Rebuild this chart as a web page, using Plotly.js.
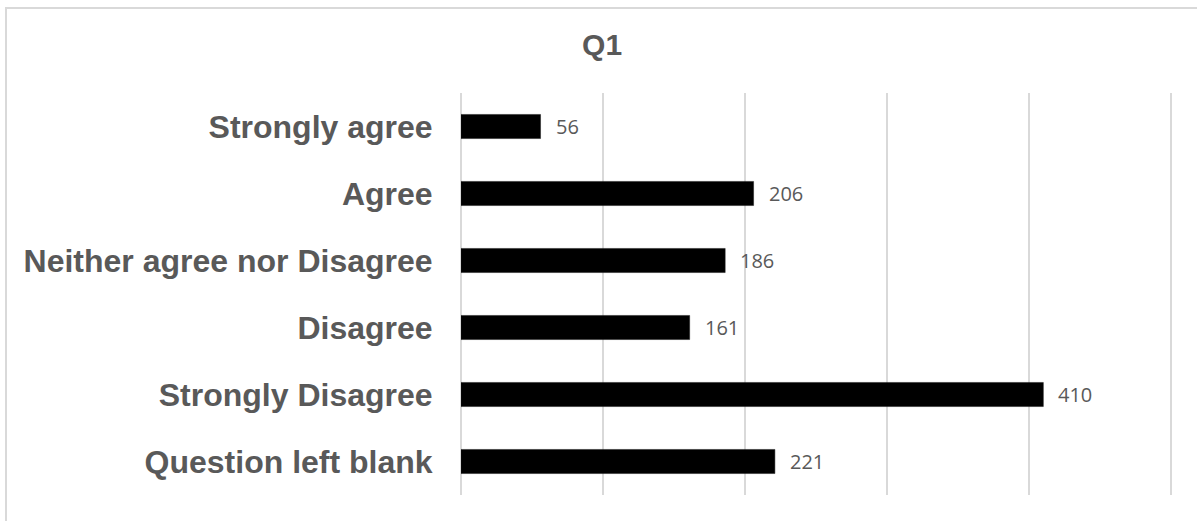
<!DOCTYPE html>
<html>
<head>
<meta charset="utf-8">
<script src="https://cdn.plot.ly/plotly-3.0.1.min.js"></script>
<style>
  html, body { margin: 0; padding: 0; background: #ffffff; overflow: hidden; }
  #wrap { position: relative; width: 1197px; height: 521px; overflow: hidden; }
  #frame { position: absolute; left: 5px; top: 7px; width: 1300px; height: 700px; border: 2px solid #d9d9d9; box-sizing: border-box; pointer-events: none; z-index: 2; }
  #chart { position: absolute; left: 0; top: 0; width: 1197px; height: 521px; }
</style>
</head>
<body>
<div id="wrap">
  <div id="chart"></div>
  <div id="frame"></div>
</div>
<script>
const categories = ["Strongly agree", "Agree", "Neither agree nor Disagree", "Disagree", "Strongly Disagree", "Question left blank"];
const counts = [56, 206, 186, 161, 410, 221];
const chartTitle = "Q1";

const trace = {
  type: "bar",
  orientation: "h",
  x: counts,
  y: categories,
  marker: { color: "#000000", line: { color: "#1a1a1a", width: 0.5 } },
  hoverinfo: "x+y"
};

const annotations = categories.map((c, i) => ({
  x: counts[i],
  y: c,
  xref: "x",
  yref: "y",
  text: String(counts[i]),
  showarrow: false,
  xanchor: "left",
  yanchor: "middle",
  xshift: 13,
  font: { family: "Open Sans, Lato, sans-serif", size: 20, color: "#595959" }
}));

const layout = {
  width: 1197,
  height: 521,
  margin: { l: 461, r: 23, t: 93, b: 26 },
  paper_bgcolor: "rgba(0,0,0,0)",
  plot_bgcolor: "rgba(0,0,0,0)",
  showlegend: false,
  bargap: 0.64,
  title: {
    text: chartTitle,
    font: { family: "Liberation Sans, Arial, sans-serif", size: 30, color: "#595959", weight: "bold" },
    x: 0.503,
    xref: "container",
    y: 1 - 44 / 521,
    yref: "container",
    yanchor: "middle"
  },
  xaxis: {
    range: [0, 502],
    dtick: 100,
    tick0: 0,
    showticklabels: false,
    showgrid: true,
    gridcolor: "#d9d9d9",
    gridwidth: 1.5,
    zeroline: true,
    zerolinecolor: "#d9d9d9",
    zerolinewidth: 1.5,
    showline: false,
    ticks: "",
    fixedrange: true
  },
  yaxis: {
    autorange: "reversed",
    showgrid: false,
    zeroline: false,
    showline: false,
    ticks: "outside",
    ticklen: 21,
    tickcolor: "rgba(0,0,0,0)",
    tickfont: { family: "Liberation Sans, Arial, sans-serif", size: 32, color: "#595959", weight: "bold" },
    fixedrange: true
  },
  annotations: annotations
};

Plotly.newPlot("chart", [trace], layout, { displayModeBar: false, staticPlot: true });
</script>
</body>
</html>
